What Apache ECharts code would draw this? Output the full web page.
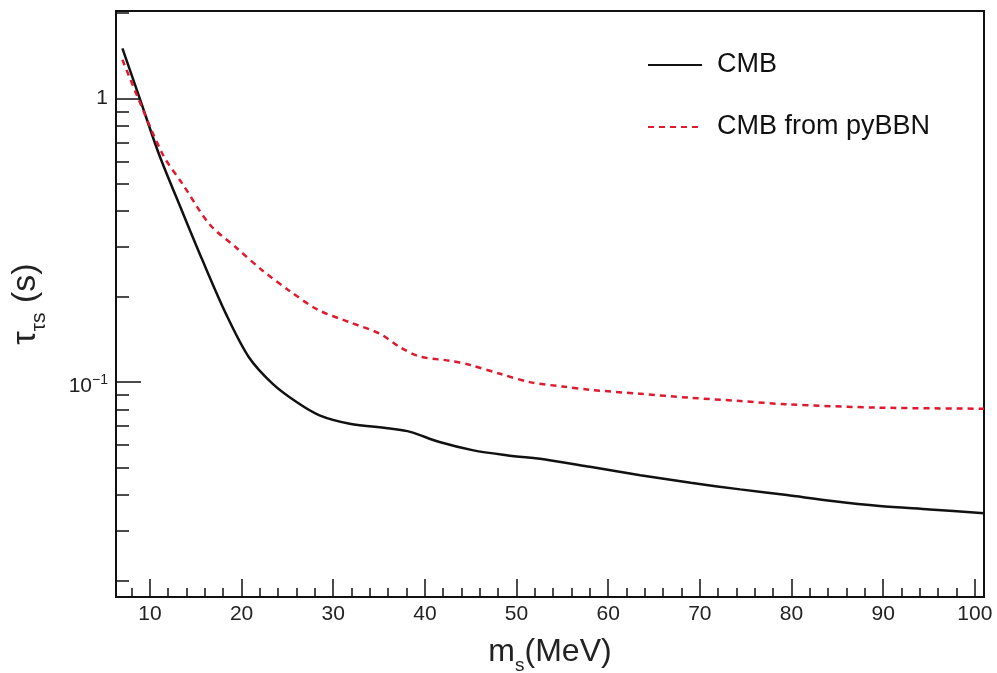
<!DOCTYPE html>
<html>
<head>
<meta charset="utf-8">
<script src="https://cdn.jsdelivr.net/npm/echarts@6/dist/echarts.min.js"></script>
<style>
html,body{margin:0;padding:0;background:#fff;}
#chart{width:997px;height:673px;}
</style>
</head>
<body>
<div id="chart"></div>
<script>
// ---- data ----
const cmbMass = [7, 9, 11, 13.5, 15.75, 18.3, 20.8, 23.4, 26, 28.5, 31.8, 36.2, 38.4, 41.6, 45.3, 48.9, 53.6, 58, 63.5, 69, 74.4, 79.5, 84.2, 89.6, 95.1, 101];
const cmbTau  = [1.50, 0.975, 0.634, 0.401, 0.268, 0.174, 0.1224, 0.0986, 0.0851, 0.0764, 0.0714, 0.0686, 0.0668, 0.0615, 0.0575, 0.0553, 0.0531, 0.0503, 0.0470, 0.0442, 0.0419, 0.0400, 0.0382, 0.0366, 0.0356, 0.0345];

const pyMass = [7, 8.5, 11.4, 13.6, 16.5, 19.4, 22.3, 25.2, 28.3, 31.8, 35.1, 37.3, 39.45, 42.7, 44.9, 48.2, 51.45, 55, 58, 63.45, 68.9, 74.4, 79.5, 89.6, 101];
const pyTau  = [1.367, 1.04, 0.634, 0.497, 0.360, 0.298, 0.247, 0.210, 0.180, 0.1625, 0.148, 0.1327, 0.123, 0.119, 0.115, 0.107, 0.100, 0.0965, 0.0940, 0.0910, 0.0881, 0.0858, 0.0835, 0.0813, 0.0806];

const seriesNames = ['CMB', 'CMB from pyBBN'];

const xMajorTicks = [10, 20, 30, 40, 50, 60, 70, 80, 90, 100];
const xMinorTicks = [8, 12, 14, 16, 18, 22, 24, 26, 28, 32, 34, 36, 38, 42, 44, 46, 48, 52, 54, 56, 58, 62, 64, 66, 68, 72, 74, 76, 78, 82, 84, 86, 88, 92, 94, 96, 98];
const yMajorTicks = [0.1, 1];
const yMinorTicks = [0.02, 0.03, 0.04, 0.05, 0.06, 0.07, 0.08, 0.09, 0.2, 0.3, 0.4, 0.5, 0.6, 0.7, 0.8, 0.9, 2];

const xRange = [6.3, 101];
const yRange = [0.0175, 2.03];

// ---- chart ----
const FONT = 'Liberation Sans';
const chart = echarts.init(document.getElementById('chart'), null, {renderer: 'canvas'});

const pairs = (xs, ys) => xs.map((x, i) => [x, ys[i]]);

const option = {
  backgroundColor: '#ffffff',
  animation: false,
  textStyle: {fontFamily: FONT},
  grid: {
    left: 116, right: 13, top: 11, bottom: 76,
    containLabel: false, outerBoundsMode: 'none',
    show: true, borderColor: '#111', borderWidth: 2, backgroundColor: 'transparent'
  },
  legend: {
    orient: 'vertical',
    left: 642, top: 45,
    itemWidth: 54, itemHeight: 14,
    itemGap: 32,
    data: seriesNames,
    itemStyle: {opacity: 0},
    textStyle: {fontFamily: FONT, fontSize: 27, color: '#111', lineHeight: 30, padding: [0, 0, 0, 10]}
  },
  xAxis: [
    {
      type: 'value', position: 'bottom', min: xRange[0], max: xRange[1],
      axisLine: {show: false},
      splitLine: {show: false},
      axisTick: {show: true, inside: true, length: 18, lineStyle: {color: '#111', width: 1.5}, customValues: xMajorTicks},
      axisLabel: {show: true, customValues: xMajorTicks, fontFamily: FONT, fontSize: 21, color: '#222', margin: 7},
      name: '{t|m}{s|s}{t|(MeV)}',
      nameLocation: 'middle', nameGap: 39,
      nameTextStyle: {
        rich: {
          t: {fontFamily: FONT, fontSize: 32, color: '#222', verticalAlign: 'bottom', padding: [0, 0, 7, 0]},
          s: {fontFamily: FONT, fontSize: 19, color: '#222', verticalAlign: 'bottom'}
        }
      }
    },
    {
      type: 'value', position: 'bottom', min: xRange[0], max: xRange[1],
      axisLine: {show: false}, splitLine: {show: false}, axisLabel: {show: false},
      axisTick: {show: true, inside: true, length: 9, lineStyle: {color: '#111', width: 1.5}, customValues: xMinorTicks}
    }
  ],
  yAxis: [
    {
      type: 'log', position: 'left', logBase: 10, min: yRange[0], max: yRange[1],
      axisLine: {show: false}, splitLine: {show: false},
      axisTick: {show: true, inside: true, length: 25, lineStyle: {color: '#111', width: 1.5}, customValues: yMajorTicks},
      axisLabel: {
        show: true, customValues: yMajorTicks, margin: 8,
        formatter: v => Math.abs(v - 1) < 1e-6 ? '{b|1}' : '{c|10}{p|−1}',
        rich: {
          b: {fontFamily: FONT, fontSize: 21, color: '#222', verticalAlign: 'bottom'},
          c: {fontFamily: FONT, fontSize: 21, color: '#222', verticalAlign: 'bottom', padding: [8, 0, 0, 0]},
          p: {fontFamily: FONT, fontSize: 14, color: '#222', verticalAlign: 'bottom', padding: [0, 0, 9, 0]}
        }
      },
      name: '{t|τ}{s|τs}{t| (s)}',
      nameLocation: 'middle', nameGap: 66, nameRotate: 90,
      nameTextStyle: {
        rich: {
          t: {fontFamily: FONT, fontSize: 34, color: '#222', verticalAlign: 'bottom', padding: [0, 0, 7, 0]},
          s: {fontFamily: FONT, fontSize: 21, color: '#222', verticalAlign: 'bottom'}
        }
      }
    },
    {
      type: 'log', position: 'left', logBase: 10, min: yRange[0], max: yRange[1],
      axisLine: {show: false}, splitLine: {show: false}, axisLabel: {show: false},
      axisTick: {show: true, inside: true, length: 13, lineStyle: {color: '#111', width: 1.5}, customValues: yMinorTicks}
    }
  ],
  series: [
    {
      name: seriesNames[0], type: 'line', xAxisIndex: 0, yAxisIndex: 0,
      data: pairs(cmbMass, cmbTau), smooth: 0.3, showSymbol: false, symbol: 'none',
      lineStyle: {color: '#111', width: 2.5, type: 'solid'},
      itemStyle: {color: '#111'}
    },
    {
      name: seriesNames[1], type: 'line', xAxisIndex: 0, yAxisIndex: 0,
      data: pairs(pyMass, pyTau), smooth: 0.3, showSymbol: false, symbol: 'none',
      lineStyle: {color: '#dd1a2e', width: 2.5, type: [6, 5]},
      itemStyle: {color: '#dd1a2e'}
    }
  ]
};
chart.setOption(option);
</script>
</body>
</html>
